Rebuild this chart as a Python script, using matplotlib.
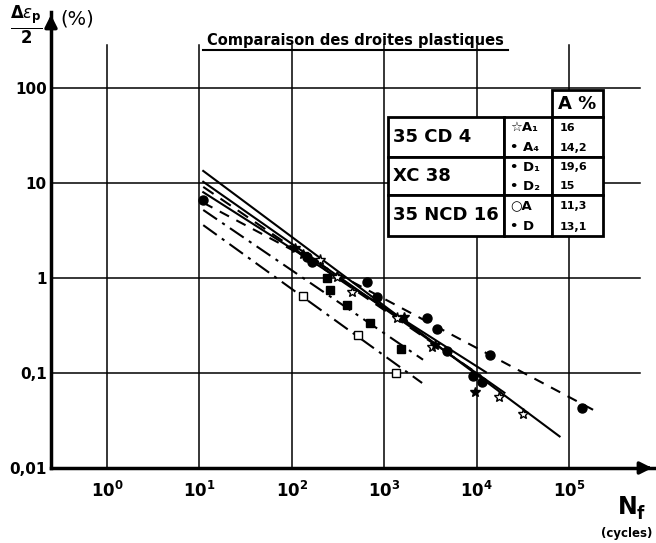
import matplotlib
matplotlib.use("Agg")
import matplotlib.pyplot as plt
from matplotlib.patches import Rectangle

# ── data ──────────────────────────────────────────────────────────────────
# fitted plastic lines: (N start, E start, N end, E end), E in %
LINE_N0 = [11, 11, 11, 11, 11, 11, 11]
LINE_E0 = [13.4, 10.3, 9.1, 8.0, 6.2, 5.2, 3.6]
LINE_N1 = [79000, 20000, 11200, 12600, 182000, 2630, 2570]
LINE_E1 = [0.0215, 0.062, 0.093, 0.102, 0.041, 0.138, 0.0785]
LINE_STYLE = ["-", "-", (0, (6, 4)), "-", (0, (5, 4)), (0, (8, 3, 1.5, 3)), (0, (8, 3, 1.5, 3))]

# 35 CD 4 A1 (open stars) / A4 (filled stars)
A1_N = [204, 309, 447, 1380, 3310, 17400, 31600]
A1_E = [1.55, 1.02, 0.71, 0.38, 0.186, 0.056, 0.037]
A4_N = [107, 132, 1620, 3550, 9550]
A4_E = [2.07, 1.8, 0.39, 0.195, 0.063]
# XC 38 D1 / D2 (filled circles)
XC_N = [11, 145, 166, 645, 830, 2900, 3700, 4800, 9100, 11500, 13800, 138000]
XC_E = [6.6, 1.66, 1.47, 0.91, 0.63, 0.38, 0.29, 0.17, 0.093, 0.080, 0.155, 0.043]
# 35 NCD 16 A (open squares) / D (filled squares)
NA_N = [132, 525, 1350]
NA_E = [0.65, 0.25, 0.1]
ND_N = [240, 257, 398, 708, 1510]
ND_E = [1.0, 0.75, 0.52, 0.34, 0.18]

Y_TICKS = [100, 10, 1, 0.1, 0.01]
Y_LABELS = ["100", "10", "1", "0,1", "0,01"]
X_TICKS = [1, 10, 100, 1000, 10000, 100000]

TABLE_MAT = ["35 CD 4", "XC 38", "35 NCD 16"]
TABLE_SYM = [["☆A₁", "• A₄"], ["• D₁", "• D₂"], ["○A", "• D"]]
TABLE_A = [["16", "14,2"], ["19,6", "15"], ["11,3", "13,1"]]

W, H = 656, 543
fig = plt.figure(figsize=(W / 100, H / 100), dpi=100)

# main axes: left spine at px 51, bottom at px 468, arrows to px 655 / 12
ax = fig.add_axes([51 / W, (H - 468) / H, (655 - 51) / W, (468 - 12) / H])
ax.set_xscale("log")
ax.set_yscale("log")
ax.set_xlim(10 ** -0.606, 10 ** 5.93)
ax.set_ylim(0.01, 10 ** 2.8)
for s in ["top", "right"]:
    ax.spines[s].set_visible(False)
for s in ["left", "bottom"]:
    ax.spines[s].set_linewidth(2.5)
ax.tick_params(which="both", length=0)
ax.minorticks_off()
ax.set_yticks(Y_TICKS)
ax.set_yticklabels(Y_LABELS, fontsize=11, fontweight="bold")
ax.set_xticks(X_TICKS)
ax.set_xticklabels([rf"$\mathbf{{10^{{{i}}}}}$" for i in range(len(X_TICKS))], fontsize=12)
ax.tick_params(axis="x", pad=9)
ax.tick_params(axis="y", pad=3)

# arrows on axes
arrow = dict(arrowstyle="-|>", lw=2.5, color="k", mutation_scale=18)
ax.annotate("", xy=(1.0, 0), xytext=(0.98, 0), xycoords="axes fraction", arrowprops=arrow)
ax.annotate("", xy=(0, 1.0), xytext=(0, 0.97), xycoords="axes fraction", arrowprops=arrow)

# grid
for xv in X_TICKS:
    ax.plot([xv, xv], [0.01, 10 ** 2.45], color="k", lw=1.1, zorder=1)
for yv in Y_TICKS[:-1]:
    ax.plot([10 ** -0.606, 10 ** 5.77], [yv, yv], color="k", lw=1.1, zorder=1)

# lines
for n0, e0, n1, e1, ls in zip(LINE_N0, LINE_E0, LINE_N1, LINE_E1, LINE_STYLE):
    ax.plot([n0, n1], [e0, e1], color="k", lw=1.5, linestyle=ls, zorder=2)

# points
ax.plot(A1_N, A1_E, "*", ms=8, mfc="white", mec="k", mew=1.0, ls="none", zorder=3)
ax.plot(A4_N, A4_E, "*", ms=7, color="k", ls="none", zorder=3)
ax.plot(XC_N, XC_E, "o", ms=6.5, color="k", ls="none", zorder=3)
ax.plot(NA_N, NA_E, "s", ms=5.5, mfc="white", mec="k", mew=1.0, ls="none", zorder=3)
ax.plot(ND_N, ND_E, "s", ms=6, color="k", ls="none", zorder=3)

# overlay in pixel coordinates for texts and legend table
ov = fig.add_axes([0, 0, 1, 1], facecolor="none")
ov.set_xlim(0, W)
ov.set_ylim(H, 0)
ov.axis("off")

ov.text(355, 40, "Comparaison des droites plastiques", ha="center", va="center",
        fontsize=10.5, fontweight="bold")
ov.plot([203, 508], [50, 50], color="k", lw=1.5)

ov.text(26, 25, r"$\frac{\mathbf{\Delta}\varepsilon_\mathbf{p}}{\mathbf{2}}$",
        ha="center", va="center", fontsize=17)
ov.text(60, 19, "(%)", ha="left", va="center", fontsize=14)

ov.text(628, 507, "N", ha="center", va="center", fontsize=17, fontweight="bold")
ov.text(640, 514, "f", ha="center", va="center", fontsize=12, fontweight="bold")
ov.text(627, 533, "(cycles)", ha="center", va="center", fontsize=8.5, fontweight="bold")

# legend table
lw = 2
ov.add_patch(Rectangle((552, 90), 51, 27, fill=True, fc="white", ec="k", lw=lw, zorder=5))
ov.text(577, 104, "A %", ha="center", va="center", fontsize=13, fontweight="bold", zorder=6)
row_y = [117, 157, 195, 236]
for i, mat in enumerate(TABLE_MAT):
    y0, y1 = row_y[i], row_y[i + 1]
    ov.add_patch(Rectangle((388, y0), 116, y1 - y0, fc="white", ec="k", lw=lw, zorder=5))
    ov.add_patch(Rectangle((504, y0), 48, y1 - y0, fc="white", ec="k", lw=lw, zorder=5))
    ov.add_patch(Rectangle((552, y0), 51, y1 - y0, fc="white", ec="k", lw=lw, zorder=5))
    ov.text(393, (y0 + y1) / 2, mat, ha="left", va="center", fontsize=13,
            fontweight="bold", zorder=6)
    for j in range(2):
        yy = y0 + (y1 - y0) * (0.27 + 0.5 * j)
        ov.text(510, yy, TABLE_SYM[i][j], ha="left", va="center", fontsize=9.5,
                fontweight="bold", zorder=6)
        ov.text(560, yy, TABLE_A[i][j], ha="left", va="center", fontsize=8,
                fontweight="bold", zorder=6)

fig.savefig("out.png", dpi=100)
